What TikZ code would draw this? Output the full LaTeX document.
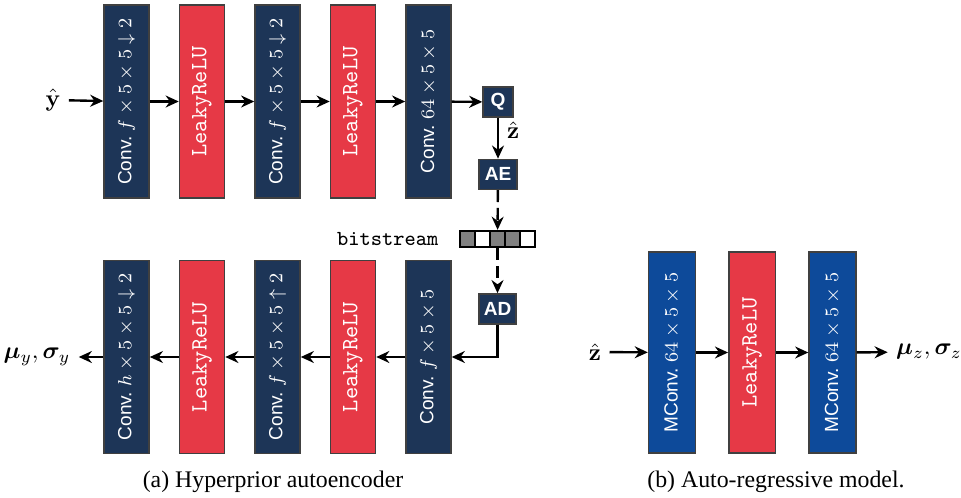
\documentclass[tikz,border=0pt]{standalone}
\usepackage[no-math]{fontspec}
\setmainfont{Liberation Serif}
\setsansfont{Liberation Sans}
\usepackage{amssymb,amsmath,bm}
\usepackage{graphicx}
\usetikzlibrary{positioning,arrows.meta}

\definecolor{convblue}{HTML}{1D3557}
\definecolor{relured}{HTML}{E63946}
\definecolor{mconvblue}{HTML}{0D4A9A}
\newcommand{\vtext}[1]{\rotatebox{90}{#1}}

\begin{document}
\begin{tikzpicture}[
	x=0.42pt, y=-0.42pt,
	node distance=12.2pt,
	layer/.style = {shape=rectangle,
		draw=black!75, line width=0.6pt, text=white, inner sep=0pt,
		minimum width=18.9pt, minimum height=81pt},
	conv/.style = {layer, fill=convblue, font=\sffamily\fontsize{8}{9}\selectfont},
	relu/.style = {layer, fill=relured, font=\ttfamily\fontsize{9.8}{10}\selectfont},
	mconv/.style = {conv, fill=mconvblue, minimum width=19.7pt, minimum height=84.4pt},
	coder/.style = {shape=rectangle, draw=black!75, line width=0.6pt,
		fill=convblue, text=white, inner sep=0pt,
		font=\sffamily\bfseries\fontsize{8}{9}\selectfont, minimum height=12.6pt},
	bit/.style = {shape=rectangle, draw=black, line width=1pt, inner sep=0pt,
		minimum width=6.3pt, minimum height=6.7pt},
	flow/.style = {-{Stealth[length=5.5pt,width=5pt]}, line width=1pt},
	dflow/.style = {flow, dash pattern=on 5pt off 2.5pt}]
	\useasboundingbox (0,0) rectangle (961,497);

	% encoder
	\node[conv] (enc1) at (126.5,101.5) {\vtext{Conv.\ $f\times5\times5\downarrow2$}};
	\node[relu, right=of enc1] (enc2) {\vtext{LeakyReLU}};
	\node[conv, right=of enc2] (enc3) {\vtext{Conv.\ $f\times5\times5\downarrow2$}};
	\node[relu, right=of enc3] (enc4) {\vtext{LeakyReLU}};
	\node[conv, right=of enc4] (enc5) {\vtext{Conv.\ $64\times5\times5$}};
	\node (yhat) at (53,100) {$\hat{\mathbf{y}}$};

	% entropy coding
	\node[coder, minimum width=12.6pt] (q) at (498,102) {Q};
	\node[coder, minimum width=16pt, below=17.2pt of q] (ae) {AE};
	\foreach \i/\c in {1/black!50,2/white,3/black!50,4/black!50,5/white}
		\node[bit, fill=\c] (b\i) at (452.5+15*\i,239) {};
	\node[font=\ttfamily\fontsize{9}{10}\selectfont, left=5pt of b1] (bitlabel) {bitstream};
	\node[coder, minimum width=15.5pt, below=18.9pt of b3] (ad) {AD};

	% decoder
	\node[conv] (dec5) at (428.5,357) {\vtext{Conv.\ $f\times5\times5$}};
	\node[relu, left=of dec5] (dec4) {\vtext{LeakyReLU}};
	\node[conv, left=of dec4] (dec3) {\vtext{Conv.\ $f\times5\times5\uparrow2$}};
	\node[relu, left=of dec3] (dec2) {\vtext{LeakyReLU}};
	\node[conv, left=of dec2] (dec1) {\vtext{Conv.\ $h\times5\times5\downarrow2$}};
	\node (muy) at (37,357) {$\bm{\mu}_y,\bm{\sigma}_y$};

	% auto-regressive model
	\node[mconv] (ar1) at (672,352.5) {\vtext{MConv.\ $64\times5\times5$}};
	\node[relu, minimum width=19.7pt, minimum height=84.4pt, right=13.4pt of ar1] (ar2) {\vtext{LeakyReLU}};
	\node[mconv, right=13.4pt of ar2] (ar3) {\vtext{MConv.\ $64\times5\times5$}};
	\node (zhat) at (595,352) {$\hat{\mathbf{z}}$};
	\node (muz) at (929,352) {$\bm{\mu}_z,\bm{\sigma}_z$};

	% connections
	\draw[flow] (yhat) -- (enc1);
	\foreach \a/\b in {enc1/enc2,enc2/enc3,enc3/enc4,enc4/enc5,enc5/q}
		\draw[flow] (\a) -- (\b);
	\draw[flow] (q) -- node[right, pos=0.3] {$\hat{\mathbf{z}}$} (ae);
	\draw[dflow] (ae) -- (b3);
	\draw[dflow] (b3) -- (ad);
	\draw[flow] (ad) |- (dec5);
	\foreach \a/\b in {dec5/dec4,dec4/dec3,dec3/dec2,dec2/dec1,dec1/muy}
		\draw[flow] (\a) -- (\b);
	\foreach \a/\b in {zhat/ar1,ar1/ar2,ar2/ar3,ar3/muz}
		\draw[flow] (\a) -- (\b);

	% captions
	\node (capa) at (273,482) {(a) Hyperprior autoencoder};
	\node (capb) at (776,482) {(b) Auto-regressive model.};
\end{tikzpicture}
\end{document}
